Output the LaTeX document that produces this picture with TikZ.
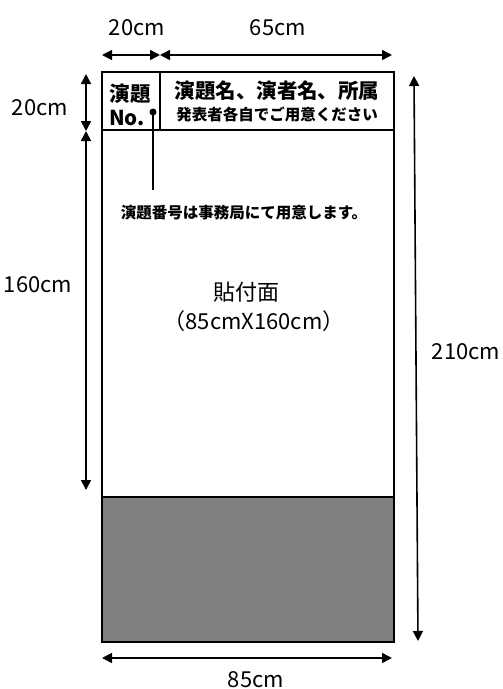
\documentclass[tikz,border=0pt]{standalone}
\usepackage{fontspec}
\setmainfont{Noto Sans CJK JP}
\usetikzlibrary{arrows.meta}

\begin{document}
\begin{tikzpicture}[x=1pt, y=-1pt, font=\fontsize{19}{22}\selectfont]
	\tikzstyle{dimStyle}=[{Triangle[length=10pt,width=10pt]}-{Triangle[length=10pt,width=10pt]}, line width=1.6pt]
	\tikzstyle{boardStyle}=[draw, line width=1.8pt]
	\tikzstyle{headStyle}=[inner sep=0pt, font=\fontsize{20.5}{24}\selectfont\bfseries]
	\tikzstyle{smallStyle}=[inner sep=0pt, font=\fontsize{15.5}{18}\selectfont\bfseries]
	\tikzstyle{sizeStyle}=[inner sep=0pt, font=\fontsize{22}{26}\selectfont]
	\useasboundingbox (0,0) rectangle (503,689);
	% board
	\coordinate (tl) at (102,72);
	\coordinate (hd) at (160,130);
	\coordinate (hr) at (394,130);
	\coordinate (gl) at (102,497);
	\coordinate (br) at (394,642);
	\fill[black!50] (gl) rectangle (br);
	\draw[boardStyle] (tl) rectangle (br);
	\draw[boardStyle] (tl |- hd) -- (hr);
	\draw[boardStyle] (gl) -- (gl -| br);
	\draw[boardStyle] (hd |- tl) -- (hd);
	% header texts
	\node[headStyle] (numA) at (130,94) {演題};
	\node[headStyle] (numB) at (127,118) {No.};
	\node[headStyle] (title) at (277,91) {演題名、演者名、所属};
	\node[smallStyle] (sub) at (277,114) {発表者各自でご用意ください};
	% number note
	\coordinate (dot) at (153,112);
	\node[smallStyle] (note) at (244,213) {演題番号は事務局にて用意します。};
	\fill (dot) circle (3.5pt);
	\draw[line width=1.8pt] (dot) -- (153,190);
	% surface
	\node[sizeStyle] (face) at (246,292) {貼付面};
	\node[sizeStyle] (faceSize) at (254,321) {（85cmX160cm）};
	% dimensions
	\coordinate (t0) at (102,55);
	\coordinate (t1) at (160,55);
	\coordinate (t2) at (392,55);
	\draw[dimStyle] (t0) -- (t1);
	\draw[dimStyle] (t1) -- (t2);
	\node[sizeStyle] (wNum) at (137,28) {20cm};
	\node[sizeStyle] (wTitle) at (278,28) {65cm};
	\coordinate (l0) at (86,74);
	\coordinate (l1) at (86,131);
	\coordinate (l2) at (86,490);
	\draw[dimStyle] (l0) -- (l1);
	\draw[dimStyle] (l1) -- (l2);
	\node[sizeStyle] (hHead) at (40,108) {20cm};
	\node[sizeStyle] (hFace) at (38,285) {160cm};
	\coordinate (r0) at (414,76);
	\coordinate (r1) at (418,641);
	\draw[dimStyle] (r0) -- (r1);
	\node[sizeStyle] (hAll) at (466,352) {210cm};
	\coordinate (b0) at (102,658);
	\coordinate (b1) at (392,658);
	\draw[dimStyle] (b0) -- (b1);
	\node[sizeStyle] (wAll) at (256,680) {85cm};
\end{tikzpicture}
\end{document}
